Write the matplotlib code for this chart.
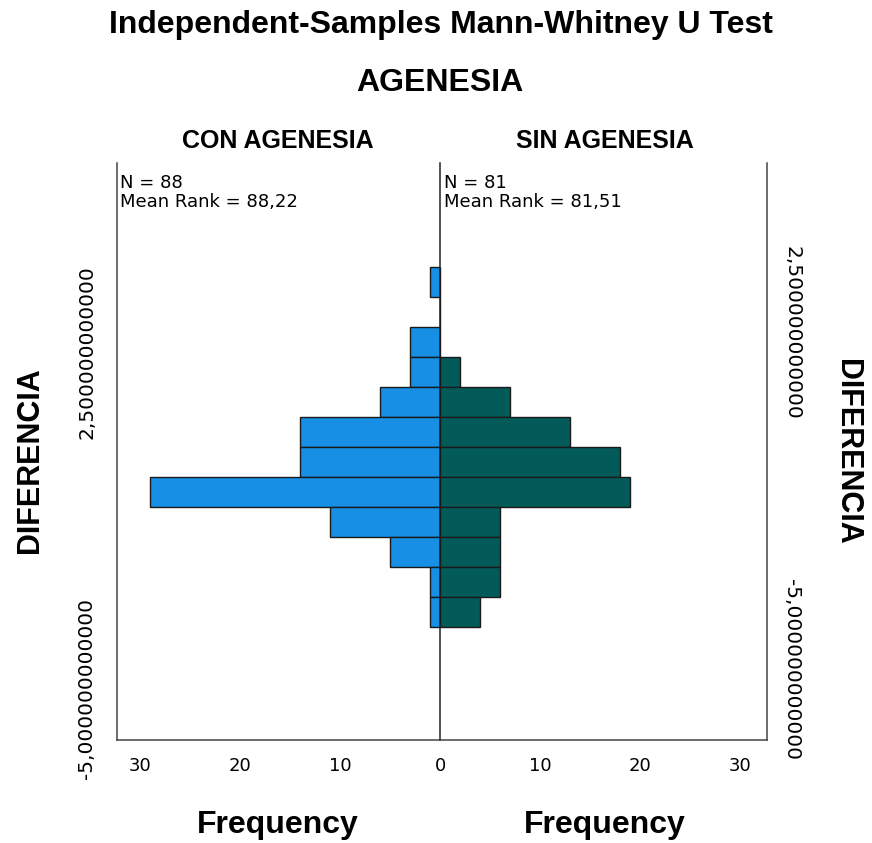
import matplotlib
matplotlib.use("Agg")
import matplotlib.pyplot as plt
from matplotlib.transforms import ScaledTranslation

# histogram of DIFERENCIA by AGENESIA group (bins listed top -> bottom)
bin_top = 4.4
bin_w = 0.67
con_counts = [1, 0, 3, 3, 6, 14, 14, 29, 11, 5, 1, 1]   # CON AGENESIA, N = 88
sin_counts = [0, 0, 0, 2, 7, 13, 18, 19, 6, 6, 6, 4]    # SIN AGENESIA, N = 81
groups = ["CON AGENESIA", "SIN AGENESIA"]
n_vals = [88, 81]
mean_ranks = ["88,22", "81,51"]
y_ticks = [-5.0, 2.5]
y_ticklabels = ["-5,000000000000", "2,500000000000"]
x_ticks_left = [30, 20, 10, 0]
x_ticks_right = [10, 20, 30]

BLUE = "#168fe4"
TEAL = "#025b59"
EDGE = "#1a1a1a"
SPINE = "#444444"

W, H = 872, 843
fig = plt.figure(figsize=(W / 100, H / 100), dpi=100)

x0, xm, x1 = 117, 440, 767
ytop, ybot = 163, 740
axL = fig.add_axes([x0 / W, 1 - ybot / H, (xm - x0) / W, (ybot - ytop) / H])
axR = fig.add_axes([xm / W, 1 - ybot / H, (x1 - xm) / W, (ybot - ytop) / H])
axL.patch.set_visible(False)
axR.patch.set_visible(False)

centers = [bin_top - bin_w * (i + 0.5) for i in range(len(con_counts))]
axL.barh(centers, con_counts, height=bin_w, color=BLUE, edgecolor=EDGE, lw=1.0)
axR.barh(centers, sin_counts, height=bin_w, color=TEAL, edgecolor=EDGE, lw=1.0)

axL.set_xlim(32.3, 0)
axR.set_xlim(0, 32.7)
for ax in (axL, axR):
    ax.set_ylim(-6.16, 6.72)
    ax.spines["top"].set_visible(False)
    for s in ("left", "right", "bottom"):
        ax.spines[s].set_color(SPINE)
        ax.spines[s].set_linewidth(1.1)
    ax.tick_params(length=0, labelsize=13, pad=12)
axR.spines["left"].set_visible(False)
axL.spines["right"].set_zorder(5)
axL.spines["right"].set_color("#222222")

TICKFONT = ["DejaVu Sans"]
axL.set_xticks(x_ticks_left)
axL.set_xticklabels([str(v) for v in x_ticks_left], family=TICKFONT)
axR.set_xticks(x_ticks_right)
axR.set_xticklabels([str(v) for v in x_ticks_right], family=TICKFONT)

axL.set_yticks(y_ticks)
axL.set_yticklabels(y_ticklabels, rotation=90, va="center", family=TICKFONT, fontsize=14.5)
axL.tick_params(axis="y", pad=15)

axR.yaxis.tick_right()
axR.set_yticks(y_ticks)
axR.set_yticklabels(y_ticklabels, rotation=-90, va="center", family=TICKFONT, fontsize=14.5)
axR.tick_params(axis="y", pad=11)
shift = ScaledTranslation(0, 19 / 100, fig.dpi_scale_trans)
for lab in axR.get_yticklabels():
    lab.set_transform(lab.get_transform() + shift)

# N / mean rank annotations
for ax, n, mr in zip((axL, axR), n_vals, mean_ranks):
    xs = 120 if ax is axL else 444
    fig.text(xs / W, 1 - 174 / H, f"N = {n}\nMean Rank = {mr}", ha="left", va="top",
             fontsize=13, family=TICKFONT, linespacing=1.1)

BOLD = dict(family=["Liberation Sans"], fontweight="bold")
fig.text(441 / W, 1 - 25 / H, "Independent-Samples Mann-Whitney U Test", ha="center", va="center",
         fontsize=23, **BOLD)
fig.text(440 / W, 1 - 83 / H, "AGENESIA", ha="center", va="center", fontsize=23, **BOLD)
for cx, g in zip((278, 605), groups):
    fig.text(cx / W, 1 - 141 / H, g, ha="center", va="center", fontsize=18, **BOLD)
    fig.text(cx / W, 1 - 833 / H, "Frequency", ha="center", va="baseline", fontsize=23, **BOLD)

fig.text(30 / W, 1 - 460 / H, "DIFERENCIA", rotation=90, ha="center", va="center", fontsize=22, **BOLD)
fig.text(847 / W, 1 - 452 / H, "DIFERENCIA", rotation=-90, ha="center", va="center", fontsize=22, **BOLD)

fig.savefig("out.png", dpi=100)
